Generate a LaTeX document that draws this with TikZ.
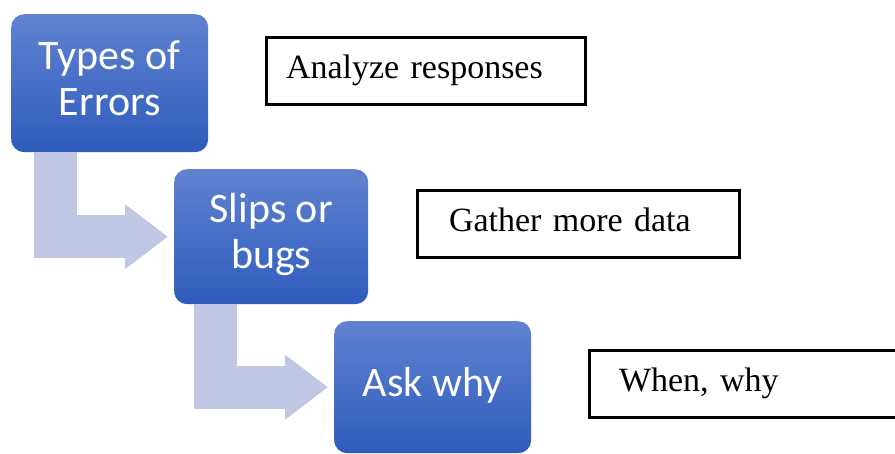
\documentclass[tikz,border=0pt]{standalone}
\usepackage{fontspec}
\setmainfont{Liberation Serif}
\newfontfamily\stepfont{Carlito}
\usetikzlibrary{arrows.meta}
\definecolor{boxtop}{RGB}{96,130,208}
\definecolor{boxbottom}{RGB}{46,92,188}
\definecolor{flowgray}{RGB}{191,199,228}

\begin{document}
\begin{tikzpicture}[x=1pt,y=-1pt,
    stepbox/.style={anchor=north west, rounded corners=13pt, top color=boxtop, bottom color=boxbottom,
      text=white, align=center, inner sep=0pt, font=\stepfont\fontsize{42}{46}\selectfont},
    notebox/.style={anchor=north west, draw, line width=3pt, minimum height=67pt, inner ysep=0pt,
      align=left, font=\fontsize{34}{41}\selectfont},
    flow/.style={draw=flowgray, line width=43pt, shorten >=6pt,
      -{Triangle[length=43pt,width=62pt,fill=flowgray]}}]
  \useasboundingbox (0,0) rectangle (895,453);
  \clip (0,0) rectangle (895,453);

  \node[stepbox, minimum width=197pt, minimum height=138pt] (types) at (11,14) {\strut Types of\\ Errors\strut};
  \node[stepbox, minimum width=194pt, minimum height=135pt] (slips) at (174,169) {\strut Slips or\\ bugs\strut};
  \node[stepbox, minimum width=197pt, minimum height=132pt] (why) at (334,321) {\strut Ask why};

  \node[notebox, inner xsep=20pt, text width=279pt] (analyze) at (264.5,35.5) {\strut Analyze responses};
  \node[notebox, inner xsep=32pt, text width=258pt] (gather) at (415.5,188.5) {\strut Gather more data};
  \node[notebox, inner xsep=30pt, text width=270pt] (when) at (587.5,348.5) {\strut When, why};

  \draw[flow] ([xshift=44.5pt]types.south west) |- (slips.west);
  \draw[flow] ([xshift=41.5pt]slips.south west) |- (why.west);
\end{tikzpicture}
\end{document}
